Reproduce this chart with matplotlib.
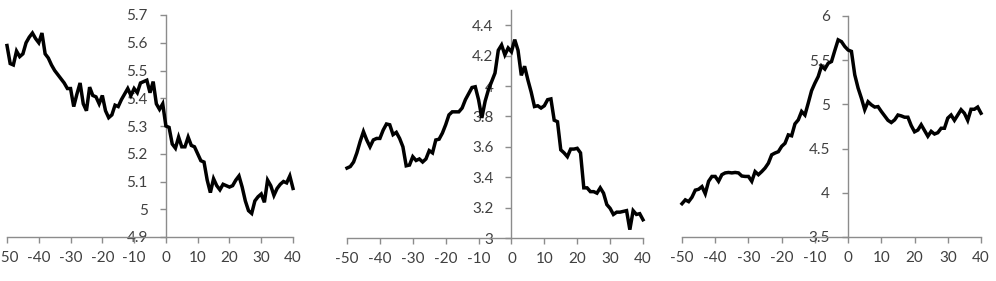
import numpy as np
import matplotlib
matplotlib.use("Agg")
from matplotlib import pyplot as plt

plt.rcParams['font.family'] = ['Lato', 'DejaVu Sans']

# --- data ----------------------------------------
days = np.arange(-50, 41)

panel_a = [5.59, 5.525, 5.52, 5.57, 5.55, 5.56, 5.60, 5.62, 5.635, 5.615,
           5.60, 5.635, 5.56, 5.545, 5.52, 5.50, 5.485, 5.47, 5.455, 5.435,
           5.435, 5.37, 5.415, 5.455, 5.38, 5.355, 5.44, 5.41, 5.405, 5.38,
           5.41, 5.355, 5.33, 5.34, 5.375, 5.37, 5.395, 5.415, 5.435, 5.41,
           5.435, 5.42, 5.455, 5.46, 5.465, 5.42, 5.46, 5.38, 5.36, 5.38,
           5.30, 5.295, 5.235, 5.22, 5.26, 5.225, 5.225, 5.26, 5.23, 5.225,
           5.20, 5.175, 5.17, 5.105, 5.06, 5.11, 5.085, 5.07, 5.09, 5.085,
           5.08, 5.085, 5.105, 5.12, 5.08, 5.03, 4.995, 4.985, 5.03, 5.045,
           5.055, 5.025, 5.105, 5.085, 5.05, 5.075, 5.09, 5.10, 5.095, 5.12,
           5.075]

panel_b = [3.46, 3.47, 3.50, 3.56, 3.635, 3.70, 3.645, 3.60, 3.645, 3.655,
           3.655, 3.71, 3.75, 3.745, 3.68, 3.695, 3.655, 3.60, 3.475, 3.48,
           3.535, 3.51, 3.52, 3.50, 3.52, 3.575, 3.56, 3.645, 3.65, 3.69,
           3.745, 3.81, 3.83, 3.83, 3.83, 3.855, 3.91, 3.95, 3.99, 3.995,
           3.91, 3.79, 3.90, 3.975, 4.03, 4.085, 4.235, 4.27, 4.205, 4.25,
           4.225, 4.305, 4.235, 4.07, 4.13, 4.04, 3.96, 3.865, 3.87, 3.855,
           3.87, 3.91, 3.915, 3.775, 3.765, 3.58, 3.56, 3.535, 3.585, 3.585,
           3.59, 3.56, 3.33, 3.33, 3.305, 3.305, 3.295, 3.33, 3.295, 3.22,
           3.195, 3.155, 3.17, 3.17, 3.175, 3.18, 3.055, 3.18, 3.155, 3.16,
           3.12]

panel_c = [3.877, 3.92, 3.90, 3.95, 4.03, 4.04, 4.07, 3.99, 4.13, 4.185,
           4.185, 4.13, 4.205, 4.225, 4.23, 4.225, 4.23, 4.225, 4.19, 4.185,
           4.185, 4.13, 4.24, 4.205, 4.24, 4.28, 4.335, 4.43, 4.45, 4.465,
           4.525, 4.56, 4.655, 4.645, 4.78, 4.825, 4.92, 4.88, 5.015, 5.155,
           5.24, 5.315, 5.435, 5.40, 5.465, 5.485, 5.61, 5.73, 5.71, 5.655,
           5.615, 5.60, 5.335, 5.185, 5.07, 4.94, 5.03, 4.995, 4.97, 4.975,
           4.92, 4.87, 4.82, 4.795, 4.825, 4.88, 4.87, 4.855, 4.855, 4.76,
           4.69, 4.71, 4.77, 4.705, 4.64, 4.695, 4.665, 4.68, 4.73, 4.73,
           4.845, 4.88, 4.82, 4.88, 4.94, 4.90, 4.82, 4.945, 4.945, 4.97,
           4.90]

x_ticks = [-50, -40, -30, -20, -10, 0, 10, 20, 30, 40]
a_ticks = [4.9, 5.0, 5.1, 5.2, 5.3, 5.4, 5.5, 5.6, 5.7]
a_labels = ["4.9", "5", "5.1", "5.2", "5.3", "5.4", "5.5", "5.6", "5.7"]
b_ticks = [3.0, 3.2, 3.4, 3.6, 3.8, 4.0, 4.2, 4.4]
b_labels = ["3", "3.2", "3.4", "3.6", "3.8", "4", "4.2", "4.4"]
c_ticks = [3.5, 4.0, 4.5, 5.0, 5.5, 6.0]
c_labels = ["3.5", "4", "4.5", "5", "5.5", "6"]

# --- drawing -------------------------------------
W, H = 996, 281
fig = plt.figure(figsize=(W / 100, H / 100), dpi=100)

AXIS_GREY = "#8c8c8c"
TEXT = "#404040"


def make_panel(px_left, px_right, px_top, px_bottom, values, ylim, yticks, ylabels):
    ax = fig.add_axes([px_left / W, 1 - px_bottom / H,
                       (px_right - px_left) / W, (px_bottom - px_top) / H])
    ax.plot(days, values, color="black", lw=2.5, solid_joinstyle="miter", zorder=3,
            clip_on=False)
    ax.set_xlim(-50, 40)
    ax.set_ylim(*ylim)
    ax.set_xticks(x_ticks)
    ax.set_xticklabels([str(t) for t in x_ticks])
    ax.set_yticks(yticks)
    ax.set_yticklabels(ylabels)
    ax.spines["left"].set_position(("data", 0))
    ax.spines["right"].set_visible(False)
    ax.spines["top"].set_visible(False)
    for s in ("left", "bottom"):
        ax.spines[s].set_color(AXIS_GREY)
        ax.spines[s].set_linewidth(1.0)
    ax.tick_params(axis="both", colors=AXIS_GREY, labelcolor=TEXT,
                   labelsize=11, length=4, width=1.0, direction="out")
    ax.tick_params(axis="x", pad=6)
    ax.tick_params(axis="y", pad=9)
    ax.patch.set_visible(False)
    return ax


make_panel(7, 293, 15, 237, panel_a, (4.9, 5.7), a_ticks, a_labels)
make_panel(347, 643, 10, 238, panel_b, (3.0, 4.5), b_ticks, b_labels)
make_panel(682, 981, 16, 237, panel_c, (3.5, 6.0), c_ticks, c_labels)

fig.savefig("out.png", dpi=100)
